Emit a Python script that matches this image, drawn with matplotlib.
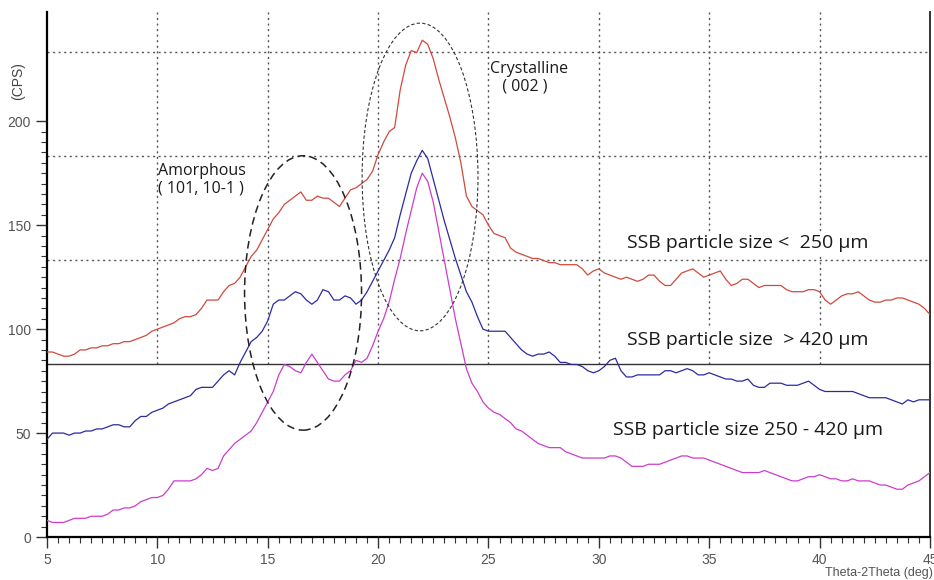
import numpy as np
import matplotlib.pyplot as plt
from matplotlib.patches import Ellipse
from matplotlib.ticker import MultipleLocator, FixedLocator

# 2-theta sampling (deg) shared by all three scans
two_theta = np.arange(5.0, 45.001, 0.25)

# SSB particle size < 250 um (red)
cps_lt250 = [
    89, 89, 88, 87, 87, 88, 90, 90, 91, 91, 92, 92, 93, 93, 94, 94,
    95, 96, 97, 99, 100, 101, 102, 103, 105, 106, 106, 107, 110, 114, 114, 114,
    118, 121, 122, 125, 130, 135, 138, 143, 148, 153, 156, 160, 162, 164, 166, 162,
    162, 164, 163, 163, 161, 159, 163, 167, 168, 170, 172, 176, 184, 190, 195, 197,
    215, 227, 234, 233, 239, 237, 230, 220, 211, 202, 192, 180, 164, 159, 157, 155,
    150, 146, 145, 144, 139, 137, 136, 135, 134, 134, 133, 132, 132, 131, 131, 131,
    131, 129, 126, 128, 129, 127, 126, 125, 124, 125, 124, 123, 124, 126, 126, 123,
    121, 121, 124, 127, 128, 129, 127, 125, 126, 127, 128, 124, 121, 122, 124, 124,
    122, 120, 121, 121, 121, 121, 119, 118, 118, 118, 119, 119, 118, 114, 112, 114,
    116, 117, 117, 118, 116, 114, 113, 113, 114, 114, 115, 115, 114, 113, 112, 110,
    107]

# SSB particle size > 420 um (blue)
cps_gt420 = [
    47, 50, 50, 50, 49, 50, 50, 51, 51, 52, 52, 53, 54, 54, 53, 53,
    56, 58, 58, 60, 61, 62, 64, 65, 66, 67, 68, 71, 72, 72, 72, 75,
    78, 80, 78, 84, 89, 94, 96, 99, 104, 112, 114, 114, 116, 118, 117, 114,
    112, 114, 119, 118, 114, 114, 116, 115, 112, 114, 118, 123, 128, 133, 138, 144,
    155, 165, 175, 181, 186, 182, 172, 162, 152, 143, 134, 126, 118, 113, 106, 100,
    99, 99, 99, 99, 96, 93, 90, 88, 87, 88, 88, 89, 87, 84, 84, 83,
    83, 82, 80, 79, 80, 82, 85, 86, 80, 77, 77, 78, 78, 78, 78, 78,
    80, 80, 79, 80, 81, 80, 78, 78, 79, 78, 77, 76, 76, 75, 75, 76,
    73, 72, 72, 74, 74, 74, 73, 73, 73, 74, 75, 73, 71, 70, 70, 70,
    70, 70, 70, 69, 68, 67, 67, 67, 67, 66, 65, 64, 66, 65, 66, 66,
    66]

# SSB particle size 250 - 420 um (magenta)
cps_mid = [
    8, 7, 7, 7, 8, 9, 9, 9, 10, 10, 10, 11, 13, 13, 14, 14,
    15, 17, 18, 19, 19, 20, 23, 27, 27, 27, 27, 28, 30, 33, 32, 33,
    39, 42, 45, 47, 49, 51, 55, 60, 65, 70, 78, 83, 82, 80, 79, 84,
    88, 84, 80, 76, 75, 75, 78, 80, 85, 84, 86, 92, 99, 105, 113, 124,
    134, 146, 157, 168, 175, 171, 161, 147, 133, 119, 105, 93, 81, 74, 70, 65,
    62, 60, 59, 57, 55, 52, 51, 49, 47, 45, 44, 43, 43, 43, 41, 40,
    39, 38, 38, 38, 38, 38, 39, 39, 38, 36, 34, 34, 34, 35, 35, 35,
    36, 37, 38, 39, 39, 38, 38, 38, 37, 36, 35, 34, 33, 32, 31, 31,
    31, 31, 32, 31, 30, 29, 28, 27, 27, 28, 29, 29, 30, 29, 28, 28,
    27, 27, 28, 27, 27, 27, 26, 25, 25, 24, 23, 23, 25, 26, 27, 29,
    31]

grid_x = [10, 15, 20, 25, 30, 35, 40]
grid_y = [133.3, 183.3, 233.3]
base_y = 83.3

fig = plt.figure(figsize=(9.34, 5.8), dpi=100)
ax = fig.add_axes([0.0503, 0.0741, 0.9454, 0.905])
ax.set_xlim(5, 45)
ax.set_ylim(0, 252.5)

# grid (only above the baseline, like the instrument software)
for gx in grid_x:
    ax.plot([gx, gx], [base_y, 252.5], color='#555555', lw=1.0,
            ls=(0, (1.5, 2.5)), zorder=1)
for gy in grid_y:
    ax.axhline(gy, color='#555555', lw=1.0, ls=(0, (1.5, 2.5)), zorder=1)
ax.axhline(base_y, color='#333333', lw=1.0, zorder=1)

ax.plot(two_theta, cps_lt250, color='#d04a3c', lw=0.9, zorder=3)
ax.plot(two_theta, cps_gt420, color='#2b2ba0', lw=0.9, zorder=3)
ax.plot(two_theta, cps_mid, color='#cc3ccc', lw=0.9, zorder=3)

# annotation ellipses
ax.add_patch(Ellipse((16.6, 117.4), 5.3, 132, fill=False, ec='#222222',
                     lw=1.1, ls=(0, (5, 3)), zorder=4))
ax.add_patch(Ellipse((21.9, 173.2), 5.25, 148, fill=False, ec='#333333',
                     lw=0.8, ls=(0, (3, 2)), zorder=4))

tfont = dict(family=['Open Sans', 'DejaVu Sans'], color='#1a1a1a')
box = dict(facecolor='white', edgecolor='none', pad=1.5)
ax.text(10.05, 172, 'Amorphous\n( 101, 10-1 )', fontsize=11.5, ha='left',
        va='center', linespacing=1.15, zorder=5, **tfont)
ax.text(25.05, 221, 'Crystalline\n   ( 002 )', fontsize=11.5, ha='left',
        va='center', linespacing=1.15, zorder=5, **tfont)
ax.text(36.75, 141.5, 'SSB particle size <  250 \u00b5m', fontsize=14, ha='center',
        va='center', bbox=box, zorder=5, **tfont)
ax.text(36.75, 95, 'SSB particle size  > 420 \u00b5m', fontsize=14, ha='center',
        va='center', bbox=box, zorder=5, **tfont)
ax.text(36.75, 51.5, 'SSB particle size 250 - 420 \u00b5m', fontsize=14, ha='center',
        va='center', bbox=box, zorder=5, **tfont)

# axes styling
ax.spines['top'].set_visible(False)
ax.spines['left'].set_linewidth(1.6)
ax.spines['bottom'].set_linewidth(1.6)
ax.spines['right'].set_linewidth(1.3)
ax.spines['right'].set_color('#222222')

ax.xaxis.set_major_locator(MultipleLocator(5))
ax.xaxis.set_minor_locator(MultipleLocator(0.5))
ax.yaxis.set_major_locator(FixedLocator([0, 50, 100, 150, 200]))
ax.yaxis.set_minor_locator(FixedLocator(list(range(0, 201, 5))))
ax.tick_params(which='major', direction='out', length=8, width=1, colors='#333333',
               labelcolor='#555555', labelsize=10)
ax.tick_params(which='minor', direction='out', length=4, width=0.8, colors='#333333')
ax.tick_params(axis='y', which='both', right=False)
for lab in ax.get_xticklabels() + ax.get_yticklabels():
    lab.set_family(['Liberation Sans Narrow', 'Liberation Sans', 'DejaVu Sans'])

fig.text(0.019, 0.86, '(CPS)', rotation=90, ha='center', va='center', fontsize=10,
         color='#444444', family=['Liberation Sans', 'DejaVu Sans'])
fig.text(0.999, 0.002, 'Theta-2Theta (deg)', ha='right', va='bottom', fontsize=9,
         color='#555555', family=['Liberation Sans', 'DejaVu Sans'])

fig.savefig('out.png', dpi=100)
